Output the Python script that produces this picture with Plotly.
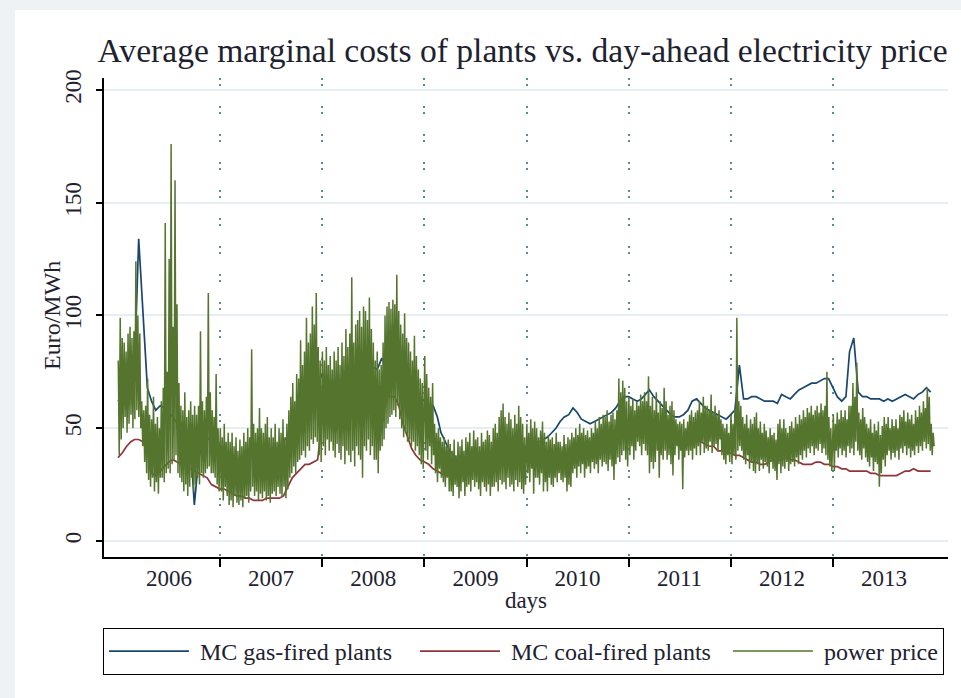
import datetime as dt
import plotly.graph_objects as go

YEARS = list(range(2006, 2014))
TICK_YEARS = [str(y) for y in YEARS]

# Marginal costs (Euro/MWh), sampled on the 1st and 16th of each month
gas_mc = [
    62, 64, 66, 70, 75, 134, 98, 68, 62, 58, 60, 59, 57, 55, 52, 52, 50, 46, 16, 36, 44, 45, 46, 44,   # 2006
    42, 38, 35, 31, 29, 30, 33, 36, 38, 40, 41, 42, 40, 38, 41, 44, 47, 49, 50, 53, 58, 62, 66, 69,    # 2007
    74, 72, 70, 70, 69, 72, 77, 78, 76, 75, 74, 76, 77, 76, 81, 78, 74, 72, 70, 67, 65, 63, 66, 64,    # 2008
    62, 60, 60, 55, 48, 44, 40, 38, 36, 36, 34, 33, 31, 30, 30, 30, 31, 33, 35, 33, 34, 36, 38, 40,    # 2009
    42, 43, 44, 44, 45, 46, 48, 50, 53, 55, 56, 59, 57, 54, 53, 52, 53, 54, 55, 56, 57, 59, 62, 64,    # 2010
    64, 63, 62, 63, 65, 67, 64, 62, 60, 58, 56, 55, 55, 56, 58, 62, 63, 61, 59, 58, 57, 56, 55, 54,    # 2011
    56, 58, 78, 63, 63, 64, 64, 63, 62, 62, 62, 61, 65, 64, 63, 65, 67, 68, 69, 70, 70, 71, 72, 72,    # 2012
    68, 64, 62, 64, 84, 90, 66, 64, 64, 63, 63, 63, 62, 63, 62, 63, 64, 65, 64, 63, 65, 66, 68, 66,    # 2013
]
coal_mc = [
    37, 39, 42, 44, 45, 45, 44, 40, 30, 29, 31, 33, 35, 36, 35, 34, 33, 32, 31, 30, 29, 28, 25, 24,    # 2006
    23, 23, 22, 21, 20, 20, 19, 19, 18, 18, 18, 19, 19, 19, 19, 20, 24, 28, 30, 32, 34, 34, 35, 36,    # 2007
    54, 56, 56, 54, 53, 53, 54, 56, 58, 60, 62, 64, 66, 67, 66, 65, 64, 64, 60, 52, 46, 41, 38, 36,    # 2008
    35, 34, 32, 31, 30, 29, 29, 30, 30, 31, 31, 31, 31, 31, 31, 32, 32, 32, 33, 34, 34, 35, 35, 35,    # 2009
    35, 35, 35, 36, 36, 36, 37, 37, 38, 38, 39, 40, 40, 41, 41, 42, 42, 42, 43, 43, 43, 44, 45, 46,    # 2010
    48, 47, 47, 48, 48, 49, 49, 48, 49, 49, 48, 47, 46, 46, 46, 45, 45, 44, 43, 42, 42, 40, 40, 39,    # 2011
    39, 38, 38, 37, 36, 35, 35, 34, 34, 35, 36, 36, 36, 37, 36, 36, 35, 34, 34, 34, 35, 35, 34, 34,    # 2012
    33, 33, 32, 32, 31, 31, 31, 31, 31, 30, 30, 29, 29, 29, 29, 29, 30, 31, 31, 32, 31, 31, 31, 31,    # 2013
]

# Day-ahead power price (Euro/MWh): weekly weekday peak and weekend trough, 52 weeks per year
peak_2006 = [80, 99, 90, 88, 84, 92, 95, 90, 93, 124, 100, 92, 62, 58, 60, 72, 56, 54, 64, 52, 55, 50,
             62, 68, 141, 75, 125, 176, 95, 160, 105, 70, 60, 58, 66, 55, 58, 62, 56, 60,
             56, 60, 93, 62, 58, 64, 110, 66, 58, 55, 74, 50]
trough_2006 = [38, 45, 50, 55, 48, 52, 56, 50, 54, 58, 55, 50, 42, 35, 30, 27, 24, 28, 22, 26, 21, 28,
               28, 26, 30, 32, 30, 34, 36, 38, 30, 28, 26, 22, 25, 20, 24, 28, 22, 25,
               28, 25, 30, 28, 30, 32, 33, 30, 30, 28, 25, 22]
peak_2007 = [50, 46, 52, 44, 48, 44, 48, 42, 46, 40, 45, 42, 48, 44, 50, 46, 85, 52, 48, 50, 59, 50,
             48, 52, 55, 46, 50, 46, 52, 44, 50, 48, 54, 46, 52, 58, 64, 70, 62, 74,
             72, 89, 78, 84, 99, 88, 92, 104, 96, 110, 86, 80]
trough_2007 = [22, 18, 24, 20, 16, 18, 15, 20, 17, 16, 18, 15, 19, 20, 17, 22, 24, 20, 22, 18, 21, 19,
               22, 18, 20, 17, 21, 22, 20, 24, 21, 20, 24, 19, 23, 28, 30, 33, 30, 35,
               36, 38, 40, 37, 42, 40, 45, 43, 46, 44, 38, 35]
peak_2008 = [84, 80, 86, 78, 82, 76, 84, 80, 86, 78, 88, 82, 94, 86, 92, 117, 88, 96, 98, 102, 95, 104,
             102, 98, 108, 94, 88, 80, 84, 76, 78, 88, 100, 104, 106, 103, 107, 105, 118, 102,
             96, 92, 101, 90, 88, 84, 80, 91, 82, 76, 72, 70]
trough_2008 = [42, 38, 45, 40, 44, 40, 37, 43, 39, 36, 42, 34, 40, 38, 35, 40, 33, 42, 38, 36, 28, 42,
               40, 45, 38, 42, 36, 36, 30, 40, 42, 45, 50, 52, 55, 56, 58, 55, 60, 54,
               50, 46, 48, 44, 45, 42, 44, 40, 42, 38, 34, 32]
peak_2009 = [82, 74, 68, 64, 70, 52, 48, 50, 46, 44, 46, 42, 45, 43, 40, 45, 38, 44, 42, 45, 40, 46,
             44, 48, 42, 49, 45, 46, 42, 48, 44, 45, 49, 47, 44, 50, 52, 48, 55, 58,
             61, 55, 52, 57, 54, 50, 56, 52, 60, 55, 52, 46]
trough_2009 = [40, 36, 42, 34, 38, 30, 26, 32, 28, 26, 24, 28, 22, 22, 20, 25, 24, 19, 22, 26, 20, 24,
               25, 22, 27, 24, 26, 23, 20, 26, 24, 22, 25, 20, 24, 24, 26, 22, 27, 25,
               26, 23, 28, 24, 25, 22, 27, 24, 26, 23, 21, 25]
peak_2010 = [52, 48, 54, 50, 53, 50, 46, 49, 53, 48, 44, 47, 45, 46, 43, 48, 44, 44, 42, 47, 43, 46,
             45, 48, 46, 50, 47, 52, 48, 50, 47, 49, 46, 50, 48, 53, 50, 55, 52, 56,
             55, 58, 53, 56, 57, 54, 58, 72, 66, 71, 68, 62]
trough_2010 = [30, 26, 32, 21, 28, 28, 25, 30, 22, 26, 22, 28, 25, 24, 28, 26, 30, 27, 26, 28, 22, 25,
               24, 30, 32, 28, 33, 30, 34, 28, 32, 33, 30, 35, 32, 34, 30, 36, 33, 35,
               34, 31, 36, 33, 27, 34, 37, 35, 38, 40, 36, 33]
peak_2011 = [64, 60, 63, 58, 62, 60, 65, 62, 66, 62, 73, 60, 64, 58, 66, 57, 62, 59, 68, 62, 56, 60,
             62, 58, 54, 52, 53, 52, 54, 50, 53, 56, 58, 55, 57, 58, 62, 57, 64, 60,
             60, 58, 65, 57, 60, 56, 58, 54, 52, 50, 52, 48]
trough_2011 = [38, 42, 36, 40, 44, 42, 38, 43, 40, 38, 30, 35, 32, 35, 40, 28, 38, 36, 40, 36, 38, 34,
               29, 38, 42, 36, 40, 23, 37, 40, 38, 40, 36, 41, 38, 42, 38, 44, 39, 41,
               40, 44, 39, 42, 43, 40, 45, 38, 36, 34, 38, 35]
peak_2012 = [56, 52, 58, 99, 62, 60, 55, 52, 56, 50, 54, 52, 55, 57, 50, 53, 48, 52, 49, 46, 50, 47,
             48, 45, 52, 54, 50, 54, 50, 48, 51, 53, 50, 55, 52, 56, 54, 58, 55, 59,
             57, 60, 56, 58, 60, 57, 61, 58, 60, 75, 55, 50]
trough_2012 = [34, 38, 36, 40, 42, 40, 36, 34, 38, 32, 35, 31, 30, 34, 31, 36, 32, 35, 33, 30, 35, 32,
               31, 27, 34, 30, 33, 32, 35, 31, 34, 35, 33, 37, 34, 38, 36, 40, 37, 41,
               39, 42, 38, 41, 40, 43, 39, 41, 38, 36, 33, 31]
peak_2013 = [56, 52, 57, 54, 58, 55, 58, 54, 60, 60, 70, 64, 79, 57, 54, 59, 55, 52, 50, 54, 48, 52,
             49, 53, 47, 51, 55, 52, 55, 50, 54, 51, 54, 50, 56, 55, 58, 53, 57, 54,
             56, 52, 58, 55, 60, 57, 62, 59, 68, 64, 52, 48]
trough_2013 = [31, 40, 37, 41, 38, 40, 37, 42, 39, 41, 38, 44, 40, 38, 36, 41, 37, 35, 33, 37, 31, 35,
               34, 24, 30, 36, 33, 38, 40, 36, 39, 37, 40, 36, 41, 39, 42, 38, 41, 37,
               40, 38, 42, 39, 42, 40, 44, 41, 43, 40, 38, 42]

PEAKS = [peak_2006, peak_2007, peak_2008, peak_2009, peak_2010, peak_2011, peak_2012, peak_2013]
TROUGHS = [trough_2006, trough_2007, trough_2008, trough_2009, trough_2010, trough_2011,
           trough_2012, trough_2013]

SERIES_NAMES = ["MC gas-fired plants", "MC coal-fired plants", "power price"]

# Dates for the semi-monthly cost series
half_month_dates = [dt.date(y, m, d) for y in YEARS for m in range(1, 13) for d in (1, 16)]

# Power price as one line that swings between each week's peak and trough
price_x, price_y = [], []
for y, peaks, troughs in zip(YEARS, PEAKS, TROUGHS):
    for k, (hi, lo) in enumerate(zip(peaks, troughs)):
        start = dt.datetime(y, 1, 1) + dt.timedelta(days=7 * k)
        price_x += [start + dt.timedelta(days=1), start + dt.timedelta(days=4, hours=12)]
        price_y += [hi, lo]

NAVY, MAROON, FOREST = "#1a476f", "#90353b", "#55752f"
SERIF = "Liberation Serif"
TEXT = "#1e2230"
NB = "\u00a0"


def legend_label(name, trailing):
    # non-breaking spaces keep Stata-like gaps around each legend key
    return NB + name + NB * trailing


fig = go.Figure()
fig.add_trace(go.Scatter(x=half_month_dates, y=gas_mc, mode="lines",
                         name=legend_label(SERIES_NAMES[0], 3),
                         line=dict(color=NAVY, width=1.7)))
fig.add_trace(go.Scatter(x=half_month_dates, y=coal_mc, mode="lines",
                         name=legend_label(SERIES_NAMES[1], 2),
                         line=dict(color=MAROON, width=1.7)))
fig.add_trace(go.Scatter(x=price_x, y=price_y, mode="lines",
                         name=legend_label(SERIES_NAMES[2], 0),
                         line=dict(color=FOREST, width=1.5)))

PLOT_W, PLOT_H = 844, 479   # plot area in pixels (left 104, top 78)

fig.update_layout(
    width=961, height=698,
    margin=dict(l=104, r=13, t=78, b=141),
    paper_bgcolor="white", plot_bgcolor="white",
    font=dict(family=SERIF, size=23, color=TEXT),
    title=dict(text="Average marginal costs of plants vs. day-ahead electricity price",
               font=dict(family=SERIF, size=33.6, color=TEXT),
               x=0.496, xref="paper", xanchor="center",
               y=1 - 50 / 698, yref="container", yanchor="middle"),
    showlegend=True,
    legend=dict(orientation="h", x=-1 / PLOT_W, y=-71 / PLOT_H, xanchor="left", yanchor="top",
                bordercolor="black", borderwidth=1, bgcolor="white",
                font=dict(family=SERIF, size=24, color=TEXT),
                itemwidth=80, entrywidth=0),
    xaxis=dict(
        type="date", range=["2005-11-12", "2014-02-16"],
        tickmode="array", tickvals=[f"{y}-07-02" for y in YEARS], ticktext=TICK_YEARS,
        ticks="outside", ticklen=0, showgrid=False, zeroline=False,
        showline=True, linecolor="black", linewidth=1.5,
        tickfont=dict(family=SERIF, size=23, color=TEXT),
        minor=dict(tickmode="array", tickvals=[f"{y}-01-01" for y in YEARS[1:]],
                   ticks="outside", ticklen=8, tickwidth=1.5, tickcolor="black",
                   showgrid=True, gridcolor="#5b8e91", gridwidth=1.5,
                   griddash="2px,4px,2px,20px"),
        title=dict(text="days", font=dict(family=SERIF, size=23, color=TEXT), standoff=2),
    ),
    yaxis=dict(
        range=[-7.1, 205.3], tickmode="array", tickvals=[0, 50, 100, 150, 200],
        ticks="outside", ticklen=6, tickwidth=1.5, tickcolor="black",
        showline=True, linecolor="black", linewidth=1.5, zeroline=False,
        showgrid=True, gridcolor="#e5eef2", gridwidth=1.5,
        tickangle=-90, ticklabelstandoff=6,
        tickfont=dict(family=SERIF, size=23, color=TEXT),
    ),
    annotations=[
        dict(text="Euro/MWh", textangle=-90, showarrow=False,
             xref="paper", yref="paper", x=(52 - 104) / PLOT_W, y=(557 - 316) / PLOT_H,
             xanchor="center", yanchor="middle",
             font=dict(family=SERIF, size=24, color=TEXT)),
    ],
    shapes=[
        dict(type="rect", xref="paper", yref="paper", layer="below",
             x0=-104 / PLOT_W, x1=857 / PLOT_W, y0=(557 - 10) / PLOT_H, y1=557 / PLOT_H,
             fillcolor="#eef2f5", line=dict(width=0)),
        dict(type="rect", xref="paper", yref="paper", layer="below",
             x0=-104 / PLOT_W, x1=(15 - 104) / PLOT_W, y0=-141 / PLOT_H, y1=557 / PLOT_H,
             fillcolor="#eef2f5", line=dict(width=0)),
    ],
)

fig.write_html("out.html")
